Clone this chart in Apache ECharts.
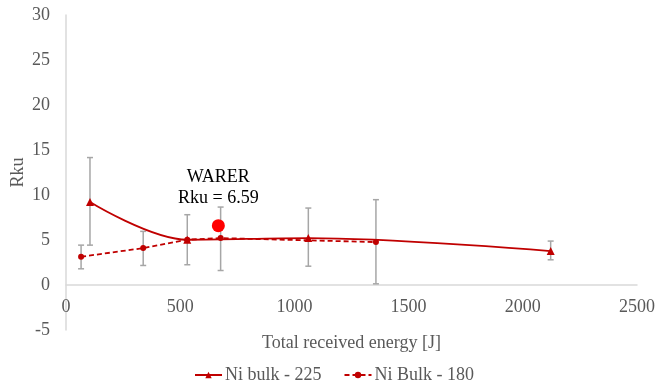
<!DOCTYPE html>
<html>
<head>
<meta charset="utf-8">
<script src="https://cdn.jsdelivr.net/npm/echarts@6/dist/echarts.min.js"></script>
<style>
  html, body { margin: 0; padding: 0; background: #fff; }
  #chart { width: 668px; height: 392px; }
</style>
</head>
<body>
<div id="chart"></div>
<script>
// Ni bulk - 225 (solid, triangles)
const energy225 = [105, 531, 1061, 2122];
const rku225 = [9.22, 5.03, 5.21, 3.77];
const low225 = [4.43, 2.25, 2.09, 2.80];
const high225 = [14.16, 7.81, 8.55, 4.88];

// Ni Bulk - 180 (dashed, dots)
const energy180 = [66, 338, 531, 677, 1357];
const rku180 = [3.14, 4.10, 5.03, 5.21, 4.77];
const low180 = [1.80, 2.17, null, 1.61, 0.13];
const high180 = [4.43, 5.96, null, 8.66, 9.48];

// WARER reference point
const warerEnergy = [667];
const warerRku = [6.59];

const xTicks = [0, 500, 1000, 1500, 2000, 2500];
const yTicks = [-5, 0, 5, 10, 15, 20, 25, 30];

const FONT = '"Liberation Serif", "Times New Roman", serif';
const TEXT = '#595959';
const RED = '#C00000';

const GRID_TOP = 15;
const GRID_BOTTOM = 62;
const CHART_H = 392;

function pairs(xs, ys) { return xs.map((x, i) => [x, ys[i]]); }

function errData(xs, lo, hi) {
  const out = [];
  xs.forEach((x, i) => { if (lo[i] != null) out.push([x, lo[i], hi[i]]); });
  return out;
}

function renderErr(params, api) {
  const x = api.value(0);
  const a = api.coord([x, api.value(1)]);
  const b = api.coord([x, api.value(2)]);
  const cap = 3;
  const style = { stroke: '#A6A6A6', lineWidth: 1.5 };
  return {
    type: 'group',
    children: [
      { type: 'line', shape: { x1: a[0], y1: a[1], x2: b[0], y2: b[1] }, style },
      { type: 'line', shape: { x1: a[0] - cap, y1: a[1], x2: a[0] + cap, y2: a[1] }, style },
      { type: 'line', shape: { x1: b[0] - cap, y1: b[1], x2: b[0] + cap, y2: b[1] }, style }
    ]
  };
}

// The horizontal axis sits on y = 0, so shift it up from the grid bottom
const yMin = yTicks[0], yMax = yTicks[yTicks.length - 1];
const plotH = CHART_H - GRID_TOP - GRID_BOTTOM;
const zeroOffset = -plotH * (0 - yMin) / (yMax - yMin);

const chart = echarts.init(document.getElementById('chart'), null, { renderer: 'canvas' });
chart.setOption({
  animation: false,
  backgroundColor: '#fff',
  textStyle: { fontFamily: FONT },
  grid: { left: 66, right: 31, top: GRID_TOP, bottom: GRID_BOTTOM, containLabel: false, outerBoundsMode: 'none' },
  legend: {
    bottom: 3,
    left: 'center',
    itemWidth: 27,
    itemHeight: 8,
    itemGap: 22,
    textStyle: { fontFamily: FONT, fontSize: 18, color: TEXT, padding: [0, 0, 0, -2] },
    data: ['Ni bulk - 225', 'Ni Bulk - 180']
  },
  xAxis: {
    type: 'value',
    min: xTicks[0],
    max: xTicks[xTicks.length - 1],
    interval: 500,
    offset: zeroOffset,
    name: 'Total received energy [J]',
    nameLocation: 'middle',
    nameGap: 49,
    nameMoveOverlap: false,
    nameTextStyle: { fontFamily: FONT, fontSize: 18, color: TEXT },
    axisLine: { show: true, onZero: false, lineStyle: { color: '#D9D9D9', width: 1.5 } },
    axisTick: { show: false },
    splitLine: { show: false },
    axisLabel: { fontFamily: FONT, fontSize: 18, color: TEXT, margin: 13, formatter: v => String(v) }
  },
  yAxis: {
    type: 'value',
    min: yMin,
    max: yMax,
    interval: 5,
    name: 'Rku',
    nameLocation: 'middle',
    nameGap: 39,
    nameMoveOverlap: false,
    nameTextStyle: { fontFamily: FONT, fontSize: 18, color: TEXT },
    axisLine: { show: true, onZero: false, lineStyle: { color: '#D9D9D9', width: 1.5 } },
    axisTick: { show: false },
    splitLine: { show: false },
    axisLabel: { fontFamily: FONT, fontSize: 18, color: TEXT, margin: 16 }
  },
  series: [
    {
      type: 'custom',
      name: 'err225',
      renderItem: renderErr,
      data: errData(energy225, low225, high225),
      encode: { x: 0, y: [1, 2] },
      z: 1,
      silent: true
    },
    {
      type: 'custom',
      name: 'err180',
      renderItem: renderErr,
      data: errData(energy180, low180, high180),
      encode: { x: 0, y: [1, 2] },
      z: 1,
      silent: true
    },
    {
      type: 'line',
      name: 'Ni bulk - 225',
      data: pairs(energy225, rku225),
      smooth: 0.35,
      symbol: 'triangle',
      symbolSize: 8,
      lineStyle: { color: RED, width: 1.8, type: 'solid' },
      itemStyle: { color: RED },
      z: 3
    },
    {
      type: 'line',
      name: 'Ni Bulk - 180',
      data: pairs(energy180, rku180),
      symbol: 'circle',
      symbolSize: 6,
      lineStyle: { color: RED, width: 1.8, type: [5, 3] },
      itemStyle: { color: RED },
      z: 3
    },
    {
      type: 'scatter',
      name: 'WARER',
      data: pairs(warerEnergy, warerRku),
      symbol: 'circle',
      symbolSize: 13,
      itemStyle: { color: '#FF0000', opacity: 1 },
      z: 4,
      label: {
        show: true,
        position: 'top',
        distance: 10,
        formatter: p => 'WARER\nRku = ' + p.value[1],
        fontFamily: FONT,
        fontSize: 18,
        lineHeight: 21,
        color: '#000'
      }
    }
  ]
});
</script>
</body>
</html>
